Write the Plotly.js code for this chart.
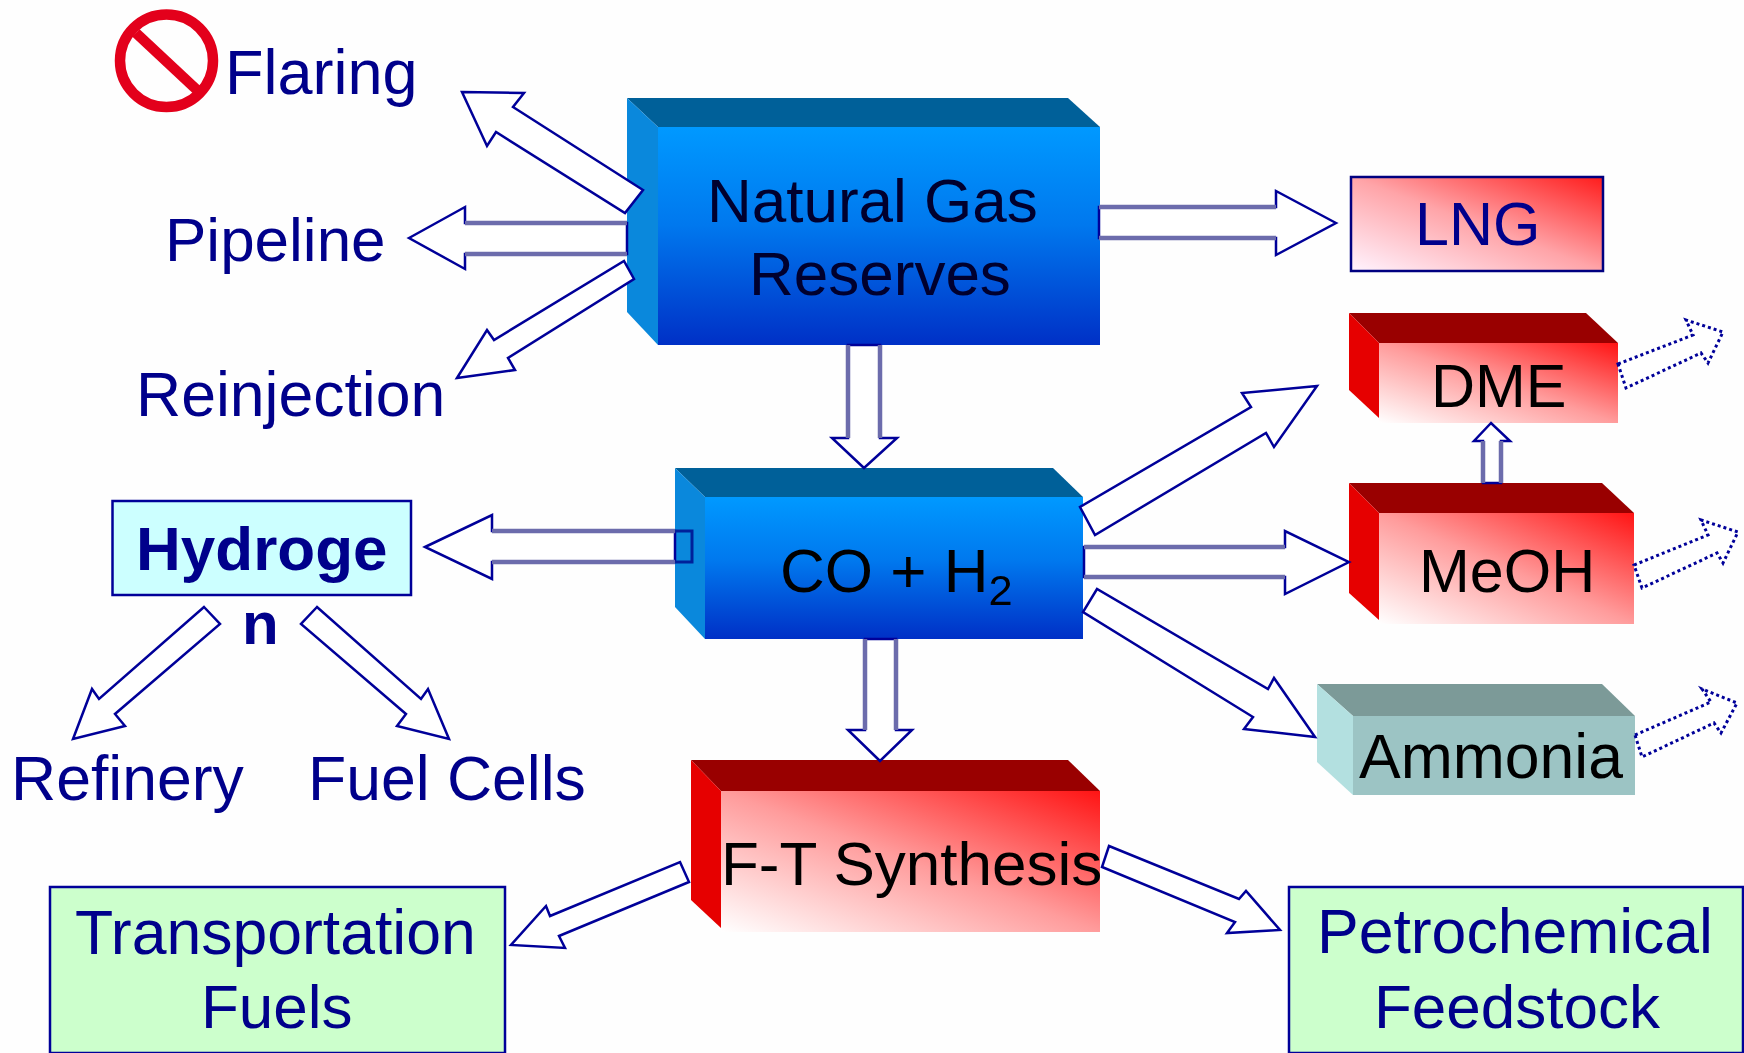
<!DOCTYPE html>
<html>
<head>
<meta charset="utf-8">
<title>Natural gas conversion routes</title>
<script src="https://cdn.plot.ly/plotly-3.0.1.min.js"></script>
<style>html,body{margin:0;padding:0;background:#fefefe;overflow:hidden}#chart{width:1744px;height:1053px;filter:blur(0.7px)}</style>
</head>
<body>
<div id="chart"></div>
<script>
// ---- text content ----
const labelTexts = ["Flaring","Pipeline","Reinjection","Natural Gas","Reserves","LNG","DME","MeOH","Ammonia",
  "CO + H<sub>2</sub>","F-T Synthesis","Hydroge","n","Refinery","Fuel Cells","Transportation","Fuels","Petrochemical","Feedstock"];
const labelX     = [321,275,290,872,880,1477,1499,1507,1491,896,911,261,260,127,447,275,277,1515,1517];
const labelBase  = [94,261,416,222,295,245,407,592,778,596,885,570,644,800,800,954,1028,953,1028];
const labelSize  = [63,62,62.5,62,62,61,61,61,62.5,62,62,62,60,62.5,62.5,62.5,62,62.5,62];
const labelColor = ["#00008b","#00008b","#00008b","#00002e","#00002e","#00008b","#000000","#000000","#000000",
  "#000000","#000000","#00008b","#00008b","#00008b","#00008b","#00008b","#00008b","#00008b","#00008b"];
const labelBold  = [0,0,0,0,0,0,0,0,0,0,0,1,1,0,0,0,0,0,0];

// ---- extruded blocks: [backLeft, top, backRight, frontLeft, frontTop, right, bottom, backBottom, leftFrontBottom]
const blueBlocks = [[627,98,1068,658,127,1100,345,312,345],[675,468,1053,705,497,1083,639,607,639]];
const redBlocks  = [[1349,313,1586,1379,343,1618,423,390,418],[1349,483,1602,1379,513,1634,624,593,620],[691,760,1068,721,791,1100,932,900,928]];
const tealBlocks = [[1317,684,1602,1353,716,1635,795,762,795]];

// ---- flat boxes: [x0, y0, x1, y1] ----
const cyanBoxes  = [[112.5,501,411,595]];
const greenBoxes = [[50,887,505,1053],[1289,887,1743,1053]];
const lngBox     = [1351,177,1603,271];

// ---- block arrows (outline points) ----
const arrowFlaring = [[462,92],[524,93],[513,107],[643,190],[625,213],[496,132],[487,146]];
const arrowPipeline = [[409,238],[465,207],[465,223],[627,223],[627,254],[465,254],[465,269]];
const arrowReinject = [[457,378],[515,370],[508,358],[634,279],[624,261],[494,340],[487,330]];
const arrowLng = [[1336,223],[1276,191],[1276,207],[1099,207],[1099,238],[1276,238],[1276,255]];
const arrowDown1 = [[864,468],[832,438],[848,438],[848,345],[880,345],[880,438],[897,438]];
const arrowDown2 = [[880,761],[848,730],[865,730],[865,639],[896,639],[896,730],[912,730]];
const arrowHydrogen = [[425,547],[492,515],[492,531],[675,531],[675,562],[492,562],[492,579]];
const arrowToDme = [[1317,386],[1242,393],[1251,407],[1080,507],[1095,535],[1266,433],[1274,447]];
const arrowToMeoh = [[1349,562],[1285,531],[1285,547],[1084,547],[1084,577],[1285,577],[1285,594]];
const arrowToAmmonia = [[1315,737],[1244,729],[1253,717],[1083,612],[1097,589],[1268,689],[1274,678]];
const arrowMeohDme = [[1491,423],[1474,441],[1483,441],[1483,483],[1501,483],[1501,441],[1510,441]];
const arrowRefinery = [[204,607],[220,624],[115,714],[125,726],[73,739],[92,689],[99,699]];
const arrowFuelCells = [[317,607],[301,624],[406,714],[397,726],[449,739],[428,689],[421,699]];
const arrowTransport = [[680,862],[689,882],[559,936],[565,948],[511,945],[546,906],[550,916]];
const arrowPetro = [[1109,846],[1239,899],[1246,891],[1280,930],[1227,933],[1235,922],[1102,867]];
const dashDme = [[1618,364],[1693,335],[1686,320],[1723,332],[1708,363],[1701,353],[1626,388]];
const dashMeoh = [[1634,565],[1708,535],[1701,520],[1738,532],[1723,563],[1717,553],[1642,588]];
const dashAmmonia = [[1635,735],[1711,702],[1702,689],[1737,703],[1721,733],[1714,723],[1642,757]];

const solidArrows = [arrowFlaring,arrowPipeline,arrowReinject,arrowLng,arrowDown1,arrowDown2,arrowHydrogen,
  arrowToDme,arrowToMeoh,arrowToAmmonia,arrowMeohDme,arrowRefinery,arrowFuelCells,arrowTransport,arrowPetro];
const dashedArrows = [dashDme,dashMeoh,dashAmmonia];
const softShafts = [arrowPipeline,arrowLng,arrowDown1,arrowDown2,arrowHydrogen,arrowToMeoh,arrowMeohDme];

// ---- helpers ----
const BORDER = "#000099";
const path = pts => "M" + pts.map(p => p[0] + " " + p[1]).join(" L") + " Z";
const openPath = pts => "M" + pts.map(p => p[0] + " " + p[1]).join(" L");
const gradientImage = (x1,y1,x2,y2,stops) => {
  const st = stops.map(s => `<stop offset="${s[0]}" stop-color="${s[1]}"/>`).join("");
  const svg = `<svg xmlns="http://www.w3.org/2000/svg" width="400" height="300" viewBox="0 0 400 300" preserveAspectRatio="none">`
    + `<defs><linearGradient id="g" x1="${x1}" y1="${y1}" x2="${x2}" y2="${y2}">${st}</linearGradient></defs>`
    + `<rect width="400" height="300" fill="url(#g)"/></svg>`;
  return "data:image/svg+xml;base64," + btoa(svg);
};
const blueFill = gradientImage(0,0,0,1,[[0,"#0099ff"],[0.45,"#0078ee"],[1,"#0030c6"]]);
const redFill  = gradientImage(0,1,1,0,[[0,"#ffffff"],[0.5,"#ff9c9c"],[1,"#ff1414"]]);
const lngFill  = gradientImage(0,1,1,0,[[0,"#fff4ff"],[0.5,"#ffa4a8"],[1,"#ff1c1c"]]);

const shapes = [], images = [];
const addPoly = (pts, fill) => shapes.push({type:"path", xref:"x", yref:"y", path:path(pts), fillcolor:fill, line:{width:0}, layer:"above"});
const addImage = (src,x0,y0,x1,y1) => images.push({source:src, xref:"x", yref:"y", x:x0, y:y0, sizex:x1-x0, sizey:y1-y0,
  sizing:"stretch", xanchor:"left", yanchor:"top", layer:"below"});

function addBlock(b, frontSrc, frontFlat, topCol, leftCol) {
  const [bl,t,br,fl,ft,r,bot,bb,lfb] = b;
  if (frontSrc) addImage(frontSrc, fl, ft, r, bot);
  else addPoly([[fl,ft],[r,ft],[r,bot],[fl,bot]], frontFlat);
  addPoly([[bl,t],[br,t],[r,ft],[fl,ft]], topCol);
  addPoly([[bl,t],[fl,ft],[fl,lfb],[bl,bb]], leftCol);
}
blueBlocks.forEach(b => addBlock(b, blueFill, null, "#006099", "#0a88dc"));
redBlocks.forEach(b => addBlock(b, redFill, null, "#990000", "#e60000"));
tealBlocks.forEach(b => addBlock(b, null, "#9cc4c4", "#7c9a98", "#b3e0e0"));

const addBox = (b, fill) => shapes.push({type:"rect", xref:"x", yref:"y", x0:b[0], y0:b[1], x1:b[2], y1:b[3],
  fillcolor:fill, line:{color:BORDER, width:2.5}, layer:"above"});
cyanBoxes.forEach(b => addBox(b, "#ccffff"));
greenBoxes.forEach(b => addBox(b, "#ccffcc"));
addImage(lngFill, lngBox[0], lngBox[1], lngBox[2], lngBox[3]);
shapes.push({type:"rect", xref:"x", yref:"y", x0:lngBox[0], y0:lngBox[1], x1:lngBox[2], y1:lngBox[3],
  line:{color:"#000080", width:2.5}, layer:"above"});

solidArrows.forEach(a => shapes.push({type:"path", xref:"x", yref:"y", path:path(a), fillcolor:"#ffffff",
  line:{color:BORDER, width:2.5}, layer:"above"}));
dashedArrows.forEach(a => shapes.push({type:"path", xref:"x", yref:"y", path:path(a), fillcolor:"#ffffff",
  line:{color:BORDER, width:3, dash:"dot"}, layer:"above"}));
softShafts.forEach(a => shapes.push({type:"path", xref:"x", yref:"y", path:openPath([a[2],a[3]]) + " M" + a[4][0] + " " + a[4][1] + " L" + a[5][0] + " " + a[5][1],
  line:{color:"#6c6cac", width:4.5}, layer:"above"}));

// hydrogen arrow shaft runs on across the block's side face, unfilled
shapes.push({type:"path", xref:"x", yref:"y", path:openPath([[675,531],[692,531],[692,562],[675,562]]),
  line:{color:"#00209a", width:3}, layer:"above"});

// prohibition sign
shapes.push({type:"circle", xref:"x", yref:"y", x0:120, y0:14.5, x1:213, y1:107, line:{color:"#e3001b", width:10.5}, layer:"above"});
shapes.push({type:"line", xref:"x", yref:"y", x0:136, y0:33, x1:197, y1:90, line:{color:"#e3001b", width:10.5}, layer:"above"});

const annotations = labelTexts.map((t,i) => ({
  text: labelBold[i] ? "<b>" + t + "</b>" : t,
  xref:"x", yref:"y", x:labelX[i], y:labelBase[i] - 0.3465*labelSize[i],
  xanchor:"center", yanchor:"middle", showarrow:false, borderpad:0, borderwidth:0,
  font:{family:"Liberation Sans, Arial, sans-serif", size:labelSize[i], color:labelColor[i]}
}));

const layout = {
  width:1744, height:1053, margin:{l:0,r:0,t:0,b:0,pad:0},
  paper_bgcolor:"#fefefe", plot_bgcolor:"#fefefe", showlegend:false,
  xaxis:{range:[0,1744], visible:false, fixedrange:true},
  yaxis:{range:[1053,0], visible:false, fixedrange:true},
  shapes, images, annotations
};
Plotly.newPlot("chart", [{type:"scatter", x:[], y:[], hoverinfo:"skip"}], layout, {displayModeBar:false, staticPlot:true});
</script>
</body>
</html>
